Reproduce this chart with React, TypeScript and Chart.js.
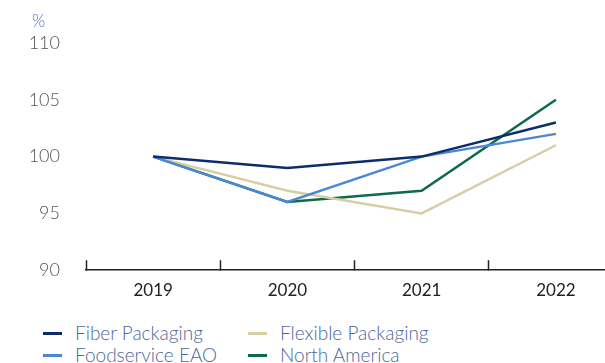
import React, { useEffect, useRef } from "react";
import { Chart, registerables } from "chart.js";

Chart.register(...registerables);

const categories = ["2019", "2020", "2021", "2022"];
const fiberPackaging = [100, 99, 100, 103];
const foodserviceEAO = [100, 96, 100, 102];
const flexiblePackaging = [100, 97, 95, 101];
const northAmerica = [100, 96, 97, 105];
const yTickValues = [90, 95, 100, 105, 110];
const seriesNames = ["Fiber Packaging", "Foodservice EAO", "Flexible Packaging", "North America"];
const seriesColors = ["#0c2c6c", "#4a87d6", "#d7cfa4", "#0d6a4a"];
const seriesValues = [fiberPackaging, foodserviceEAO, flexiblePackaging, northAmerica];
const unitLabel = "%";

export default function App() {
  const canvasRef = useRef<HTMLCanvasElement | null>(null);

  useEffect(() => {
    if (!canvasRef.current) return;
    const chart = new Chart(canvasRef.current, {
      type: "line",
      data: {
        labels: categories,
        datasets: seriesNames.map((name, i) => ({
          label: name,
          data: seriesValues[i],
          borderColor: seriesColors[i],
          backgroundColor: seriesColors[i],
          borderWidth: 2.5,
          pointRadius: 0,
          tension: 0,
          fill: false,
        })),
      },
      options: {
        animation: false,
        responsive: false,
        maintainAspectRatio: false,
        layout: { padding: { top: 43, right: 17, left: 0, bottom: 0 } },
        plugins: {
          legend: { display: false },
          tooltip: { enabled: false },
        },
        scales: {
          x: {
            offset: true,
            grid: {
              display: true,
              offset: true,
              drawOnChartArea: false,
              drawTicks: true,
              tickLength: -10,
              tickColor: "#222",
              tickWidth: 1.5,
            },
            border: { display: true, color: "#222", width: 1.5 },
            ticks: {
              color: "#222",
              padding: 20,
              font: { family: "Lato", size: 17, weight: 400 },
              maxRotation: 0,
            },
            afterFit: (scale: any) => {
              scale.height = 31;
            },
          },
          y: {
            min: 90,
            max: 110,
            afterBuildTicks: (scale: any) => {
              scale.ticks = yTickValues.map((v) => ({ value: v }));
            },
            grid: { display: false, drawTicks: false },
            border: { display: false },
            ticks: {
              color: "#555",
              padding: 26,
              font: { family: "Lato", size: 18, weight: 300 },
            },
            afterFit: (scale: any) => {
              scale.width = 86;
            },
          },
        },
      },
    });
    return () => chart.destroy();
  }, []);

  const legendItems = [0, 1, 2, 3];

  return (
    <div
      style={{
        position: "absolute",
        left: 0,
        top: 0,
        width: 605,
        height: 363,
        overflow: "hidden",
        background: "#fff",
      }}
    >
      <canvas ref={canvasRef} width={640} height={307} style={{ display: "block" }} />
      <span
        style={{
          position: "absolute",
          left: 32,
          top: 10,
          fontFamily: "Lato",
          fontSize: 17,
          fontWeight: 300,
          color: "#5a73a8",
        }}
      >
        {unitLabel}
      </span>
      <div
        style={{
          position: "absolute",
          left: 43,
          top: 322,
          display: "grid",
          gridTemplateRows: "22px 22px",
          gridAutoFlow: "column",
          gridTemplateColumns: "205px 200px",
          fontFamily: "Lato",
          fontSize: 19,
          fontWeight: 300,
          color: "#4e6699",
        }}
      >
        {legendItems.map((i) => (
          <div key={i} style={{ display: "flex", alignItems: "center", height: 22 }}>
            <span
              style={{
                display: "inline-block",
                width: 19,
                height: 3,
                background: seriesColors[i],
                marginRight: 13,
              }}
            />
            <span style={{ lineHeight: "22px", whiteSpace: "nowrap" }}>{seriesNames[i]}</span>
          </div>
        ))}
      </div>
    </div>
  );
}
